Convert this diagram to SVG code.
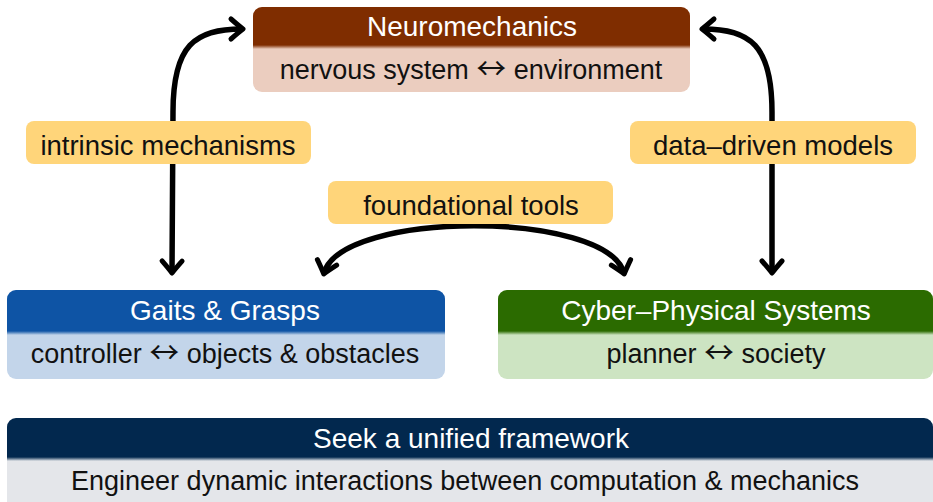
<svg xmlns="http://www.w3.org/2000/svg" width="933" height="502" viewBox="0 0 933 502">
<style>
text{font-family:"Liberation Sans",Arial,sans-serif;text-anchor:middle}
.h{fill:#fff;font-size:28px}
.b{fill:#111;font-size:27px}
.l{fill:#111;font-size:27.5px}
.ar{font-family:"Noto Sans CJK SC","DejaVu Sans",sans-serif;font-size:30px}
.lab{fill:#FFD57A}
.c{fill:none;stroke:#000;stroke-width:5.5;stroke-linecap:butt}
</style>
<defs>
<marker id="ah" markerUnits="userSpaceOnUse" viewBox="-16 -14 20 28" refX="0" refY="0" markerWidth="20" markerHeight="28" orient="auto-start-reverse" overflow="visible">
<path d="M-11,-10 Q-3,-3 1,0 Q-3,3 -11,10" fill="none" stroke="#000" stroke-width="5" stroke-linecap="round" stroke-linejoin="round"/>
</marker>
<linearGradient id="gN" x1="0" y1="0" x2="0" y2="1"><stop offset="0" stop-color="#7F2D00"/><stop offset="1" stop-color="#EBCDBF"/></linearGradient>
<linearGradient id="gG" x1="0" y1="0" x2="0" y2="1"><stop offset="0" stop-color="#0E54A5"/><stop offset="1" stop-color="#C3D5EA"/></linearGradient>
<linearGradient id="gC" x1="0" y1="0" x2="0" y2="1"><stop offset="0" stop-color="#2B6B00"/><stop offset="1" stop-color="#CDE4C2"/></linearGradient>
<linearGradient id="gU" x1="0" y1="0" x2="0" y2="1"><stop offset="0" stop-color="#02284E"/><stop offset="1" stop-color="#E4E6EA"/></linearGradient>
</defs>
<g id="connectors">
<path class="c" d="M172,272 L173,112 C173,45 195,29 242,29" marker-start="url(#ah)" marker-end="url(#ah)"/>
<path class="c" d="M772,272 L772,112 C772,45 750,29 703,29" marker-start="url(#ah)" marker-end="url(#ah)"/>
<path class="c" d="M324,273 C342,210 606,210 624,273" marker-start="url(#ah)" marker-end="url(#ah)"/>
</g>
<g id="neuromechanics">
<rect x="253" y="7" width="437" height="85" rx="9" fill="#EBCDBF"/>
<path d="M253,45 V16 a9,9 0 0 1 9,-9 H681 a9,9 0 0 1 9,9 V45 Z" fill="#7F2D00"/>
<rect x="253" y="45" width="437" height="4" fill="url(#gN)"/>
<text class="h" x="472" y="36">Neuromechanics</text>
<text class="b" x="471" y="79">nervous system <tspan class="ar">↔</tspan> environment</text>
</g>
<g id="gaits">
<rect x="7" y="290" width="438" height="89" rx="9" fill="#C3D5EA"/>
<path d="M7,331 V299 a9,9 0 0 1 9,-9 H436 a9,9 0 0 1 9,9 V331 Z" fill="#0E54A5"/>
<rect x="7" y="331" width="438" height="4" fill="url(#gG)"/>
<text class="h" x="225" y="320">Gaits &amp; Grasps</text>
<text class="b" x="225" y="363">controller <tspan class="ar">↔</tspan> objects &amp; obstacles</text>
</g>
<g id="cyber">
<rect x="498" y="290" width="435" height="89" rx="9" fill="#CDE4C2"/>
<path d="M498,331 V299 a9,9 0 0 1 9,-9 H924 a9,9 0 0 1 9,9 V331 Z" fill="#2B6B00"/>
<rect x="498" y="331" width="435" height="4" fill="url(#gC)"/>
<text class="h" x="716" y="320">Cyber–Physical Systems</text>
<text class="b" x="716" y="363">planner <tspan class="ar">↔</tspan> society</text>
</g>
<g id="unified">
<rect x="7" y="418" width="926" height="92" rx="9" fill="#E4E6EA"/>
<path d="M7,457 V427 a9,9 0 0 1 9,-9 H924 a9,9 0 0 1 9,9 V457 Z" fill="#02284E"/>
<rect x="7" y="457" width="926" height="4" fill="url(#gU)"/>
<text class="h" x="471" y="448">Seek a unified framework</text>
<text class="b" x="465" y="490">Engineer dynamic interactions between computation &amp; mechanics</text>
</g>
<g id="label-intrinsic">
<rect class="lab" x="26" y="121" width="285" height="43" rx="8"/>
<text class="l" x="168" y="155">intrinsic mechanisms</text>
</g>
<g id="label-data">
<rect class="lab" x="630" y="121" width="286" height="43" rx="8"/>
<text class="l" x="773" y="155">data–driven models</text>
</g>
<g id="label-foundational">
<rect class="lab" x="328" y="181" width="285" height="43" rx="8"/>
<text class="l" x="471" y="215">foundational tools</text>
</g>
</svg>
